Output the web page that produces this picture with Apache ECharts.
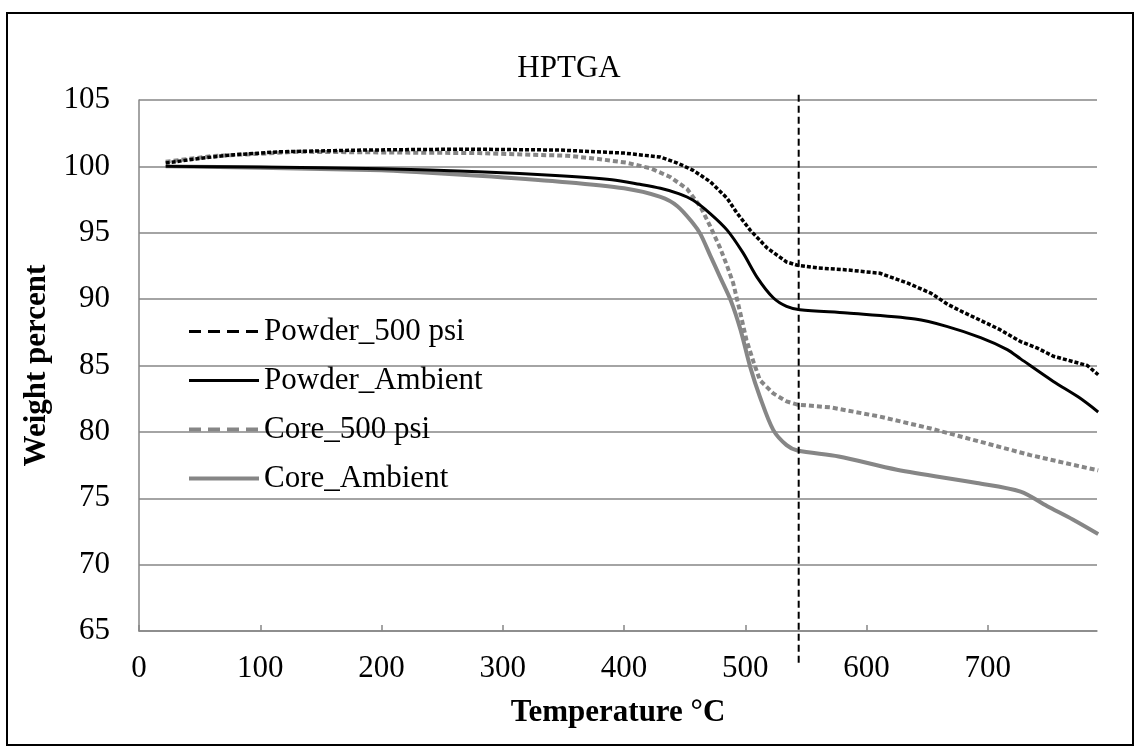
<!DOCTYPE html>
<html>
<head>
<meta charset="utf-8">
<title>HPTGA</title>
<script src="https://cdn.jsdelivr.net/npm/echarts@6/dist/echarts.min.js"></script>
<style>
  html, body { margin: 0; padding: 0; background: #fff; }
  #chart { width: 1138px; height: 748px; }
</style>
</head>
<body>
<div id="chart"></div>
<script>
// Thermogravimetric curves: [temperature °C, weight %]
const powder500 = [
  [22,100.25],[50,100.6],[75,100.85],[116,101.1],[185,101.23],[268,101.3],[347,101.23],
  [400,101.0],[430,100.7],[444,100.25],[457,99.7],[471,98.85],[485,97.6],[493,96.5],
  [504,95.2],[518,93.85],[534,92.8],[543,92.55],[560,92.35],[584,92.2],[611,91.95],
  [634,91.2],[653,90.45],[667,89.6],[680,89.0],[694,88.4],[710,87.7],[727,86.8],
  [741,86.3],[754,85.7],[770,85.3],[782,85.0],[791,84.3]
];
const powderAmbient = [
  [22,100.0],[100,99.95],[200,99.82],[280,99.6],[347,99.3],[390,99.0],[413,98.65],
  [430,98.35],[445,97.95],[457,97.45],[471,96.45],[485,95.2],[498,93.5],[510,91.6],
  [523,90.1],[534,89.45],[545,89.2],[584,88.95],[640,88.5],[666,87.95],[694,87.1],
  [716,86.2],[727,85.5],[754,83.8],[775,82.6],[791,81.5]
];
const core500 = [
  [22,100.35],[61,100.78],[100,100.95],[130,101.1],[200,101.05],[280,101.0],[353,100.8],
  [375,100.6],[402,100.28],[422,99.85],[438,99.2],[452,98.3],[463,96.96],[471,95.5],
  [479,93.9],[485,92.5],[490,91.2],[496,88.9],[501,86.9],[507,85.2],[512,83.9],
  [523,82.9],[534,82.3],[543,82.05],[570,81.85],[611,81.15],[653,80.25],[694,79.25],
  [735,78.25],[776,77.4],[791,77.1]
];
const coreAmbient = [
  [22,100.0],[100,99.9],[200,99.7],[232,99.55],[280,99.3],[347,98.85],[400,98.35],
  [430,97.7],[444,97.0],[457,95.7],[463,94.9],[471,93.3],[479,91.7],[488,89.9],
  [496,87.7],[504,84.9],[512,82.65],[523,80.15],[534,79.0],[543,78.6],[577,78.15],
  [625,77.15],[691,76.15],[727,75.5],[749,74.4],[770,73.4],[791,72.3]
];
// Reference temperature marker, drawn slightly past the plot's top and bottom
const markerLine = [[544,105.4],[544,62.3]];

const seriesNames = ['Powder_500 psi','Powder_Ambient','Core_500 psi','Core_Ambient'];
const xTickValues = [0,100,200,300,400,500,600,700];

const SERIF = "'Liberation Serif','Times New Roman',serif";
const BLACK = '#000000';
const GREY = '#868686';
const FONT = 31;

const chart = echarts.init(document.getElementById('chart'), null, { renderer: 'canvas' });

// legend keys show only the line stroke, no point symbol
const hiddenSymbol = { opacity: 0 };

chart.setOption({
  animation: false,
  backgroundColor: '#ffffff',
  title: {
    text: 'HPTGA',
    left: 'center',
    top: 48,
    textStyle: { fontFamily: SERIF, fontSize: 31, fontWeight: 'normal', color: BLACK }
  },
  grid: { left: 139, top: 100, right: 41, bottom: 117, containLabel: false },
  legend: {
    orient: 'vertical',
    left: 182,
    top: 311,
    itemWidth: 70,
    itemHeight: 14,
    itemGap: 18,
    itemStyle: hiddenSymbol,
    textStyle: { fontFamily: SERIF, fontSize: FONT, color: BLACK, lineHeight: FONT },
    data: [
      { name: seriesNames[0], itemStyle: hiddenSymbol, lineStyle: { type: [12, 7], width: 3, color: BLACK } },
      { name: seriesNames[1], itemStyle: hiddenSymbol, lineStyle: { type: 'solid', width: 3, color: BLACK } },
      { name: seriesNames[2], itemStyle: hiddenSymbol, lineStyle: { type: [12, 7], width: 4, color: GREY } },
      { name: seriesNames[3], itemStyle: hiddenSymbol, lineStyle: { type: 'solid', width: 4, color: GREY } }
    ]
  },
  xAxis: {
    type: 'value',
    min: 0,
    max: 790,
    interval: 100,
    name: 'Temperature °C',
    nameLocation: 'middle',
    nameGap: 66,
    nameTextStyle: { fontFamily: SERIF, fontSize: FONT, fontWeight: 'bold', color: BLACK },
    axisLine: { show: true, onZero: false, lineStyle: { color: GREY, width: 1.5 } },
    axisTick: { show: true, inside: true, length: 6, customValues: xTickValues, lineStyle: { color: GREY, width: 1.5 } },
    axisLabel: { customValues: xTickValues, margin: 22, fontFamily: SERIF, fontSize: FONT, color: BLACK },
    splitLine: { show: false }
  },
  yAxis: {
    type: 'value',
    min: 65,
    max: 105,
    interval: 5,
    name: 'Weight percent',
    nameLocation: 'middle',
    nameGap: 84,
    nameRotate: 90,
    nameTextStyle: { fontFamily: SERIF, fontSize: FONT, fontWeight: 'bold', color: BLACK },
    axisLine: { show: true, lineStyle: { color: GREY, width: 1.5 } },
    axisTick: { show: false },
    axisLabel: { margin: 29, fontFamily: SERIF, fontSize: FONT, color: BLACK },
    splitLine: { show: true, lineStyle: { color: GREY, width: 1.5 } }
  },
  graphic: [
    {
      type: 'rect',
      silent: true,
      shape: { x: 7, y: 13, width: 1126, height: 732 },
      style: { fill: 'none', stroke: BLACK, lineWidth: 2 }
    }
  ],
  series: [
    {
      name: seriesNames[0], type: 'line', data: powder500, showSymbol: false, symbol: 'none',
      color: BLACK, lineStyle: { color: BLACK, width: 3.5, type: [4, 2] }, z: 4
    },
    {
      name: seriesNames[1], type: 'line', data: powderAmbient, showSymbol: false, symbol: 'none',
      smooth: 0.3, color: BLACK, lineStyle: { color: BLACK, width: 3 }, z: 4
    },
    {
      name: seriesNames[2], type: 'line', data: core500, showSymbol: false, symbol: 'none',
      color: GREY, lineStyle: { color: GREY, width: 4, type: [5, 3] }, z: 3
    },
    {
      name: seriesNames[3], type: 'line', data: coreAmbient, showSymbol: false, symbol: 'none',
      smooth: 0.3, color: GREY, lineStyle: { color: GREY, width: 4 }, z: 3
    },
    {
      name: 'marker', type: 'line', data: markerLine, showSymbol: false, symbol: 'none',
      clip: false, silent: true, color: BLACK,
      lineStyle: { color: BLACK, width: 2, type: [7, 4] }, z: 5
    }
  ]
});
</script>
</body>
</html>
